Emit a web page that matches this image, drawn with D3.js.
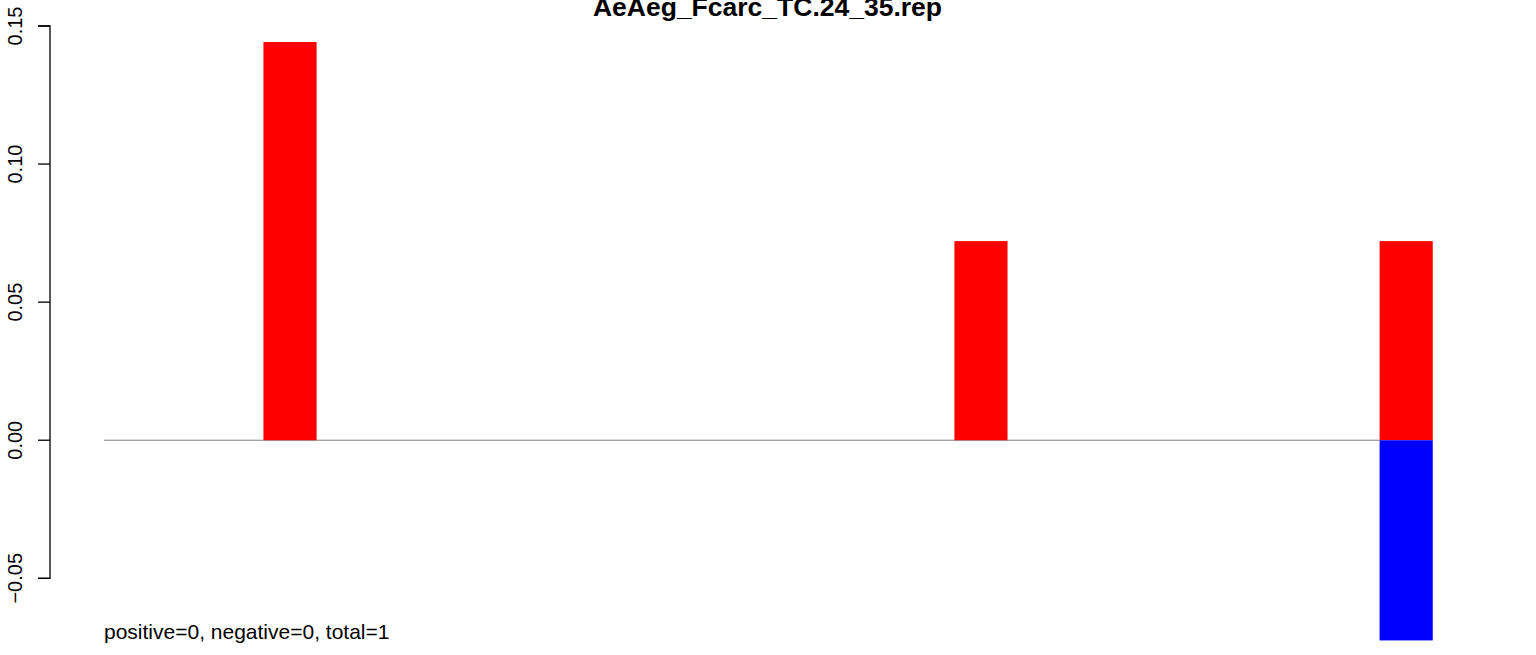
<!DOCTYPE html>
<html><head><meta charset="utf-8">
<script src="https://cdn.jsdelivr.net/npm/d3@7"></script>
<style>body{margin:0;background:#fff}svg{display:block}text{font-family:"Liberation Sans",Arial,sans-serif}</style>
</head><body>
<script>
const title = "AeAeg_Fcarc_TC.24_35.rep";
const footer = "positive=0, negative=0, total=1";
const positions = [4, 17, 25];          // bar right-edge positions (bars span pos-1..pos)
const posValues = [0.1442, 0.0721, 0.0721];
const negValues = [0, 0, -0.0725];
const yTicks = [-0.05, 0.00, 0.05, 0.10, 0.15];
const baselineRange = [0, 24];

const W = 1536, H = 655;
const svg = d3.select("body").append("svg").attr("width", W).attr("height", H);
const x = d3.scaleLinear().domain([0, 25]).range([104, 104 + 25 * 53.15]);
const y = d3.scaleLinear().domain([-0.05, 0.15]).range([578.3, 26]);

// baseline
svg.append("line")
  .attr("x1", x(baselineRange[0])).attr("x2", x(baselineRange[1]))
  .attr("y1", y(0)).attr("y2", y(0))
  .attr("stroke", "#808080").attr("stroke-width", 1);

// positive bars
svg.selectAll("rect.pos").data(positions.map((p, i) => ({p, v: posValues[i]})).filter(d => d.v !== 0))
  .join("rect").attr("class", "pos")
  .attr("x", d => x(d.p - 1)).attr("width", d => x(d.p) - x(d.p - 1))
  .attr("y", d => y(d.v)).attr("height", d => y(0) - y(d.v))
  .attr("fill", "#ff0000");

// negative bars
svg.selectAll("rect.neg").data(positions.map((p, i) => ({p, v: negValues[i]})).filter(d => d.v !== 0))
  .join("rect").attr("class", "neg")
  .attr("x", d => x(d.p - 1)).attr("width", d => x(d.p) - x(d.p - 1))
  .attr("y", y(0)).attr("height", d => y(d.v) - y(0))
  .attr("fill", "#0000ff");

// y axis
const axis = d3.axisLeft(y).tickValues(yTicks).tickSize(12).tickPadding(16)
  .tickFormat(d3.format(".2f"));
const g = svg.append("g").attr("transform", "translate(50,0)").call(axis);
g.select(".domain").attr("stroke", "#000").attr("stroke-width", 1.3)
  .attr("d", `M-12,${y(0.15)}H0V${y(-0.05)}H-12`);
g.selectAll(".tick line").attr("stroke", "#000").attr("stroke-width", 1.3);
g.selectAll(".tick text")
  .attr("font-size", 20).attr("fill", "#000")
  .attr("text-anchor", "middle")
  .attr("transform", function(d){ return `translate(${-28 - 0},${y(d)}) rotate(-90)`; })
  .attr("x", 0).attr("y", 0).attr("dy", 0)
  .text(d => d3.format(".2f")(d).replace("-", "\u2212"));
g.selectAll(".tick").attr("transform", "translate(0,0)");
g.selectAll(".tick line").attr("y1", d => y(d)).attr("y2", d => y(d)).attr("x1", -12).attr("x2", 0);

// title
svg.append("text").attr("x", 767.5).attr("y", 16).attr("text-anchor", "middle")
  .attr("font-size", 26.5).attr("font-weight", "bold").text(title);

// footer
svg.append("text").attr("x", 104).attr("y", 639).attr("font-size", 21).text(footer);
</script>
</body></html>
